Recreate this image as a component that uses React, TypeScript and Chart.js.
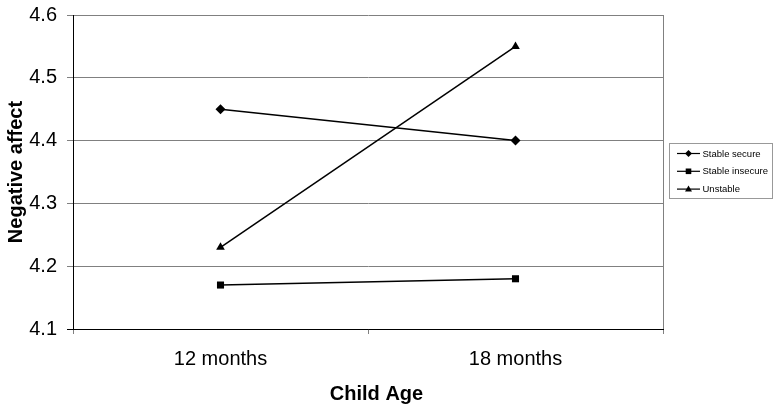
import React, { useEffect, useRef } from 'react';
import { Chart, registerables } from 'chart.js';

Chart.register(...registerables);

// ---- data ----
const categories = ['12 months', '18 months'];
const seriesNames = ['Stable secure', 'Stable insecure', 'Unstable'];
const stableSecure = [4.45, 4.4];
const stableInsecure = [4.17, 4.18];
const unstable = [4.23, 4.55];
const yTickValues = [4.1, 4.2, 4.3, 4.4, 4.5, 4.6];
const xTitle = 'Child Age';
const yTitle = 'Negative affect';
const pointStyles = ['rectRot', 'rect', 'triangle'];

const FONT = "'Liberation Sans', Arial, Helvetica, sans-serif";

function drawMarker(ctx: CanvasRenderingContext2D, style: string, x: number, y: number, r: number) {
  ctx.beginPath();
  if (style === 'rectRot') {
    ctx.moveTo(x, y - r);
    ctx.lineTo(x + r, y);
    ctx.lineTo(x, y + r);
    ctx.lineTo(x - r, y);
    ctx.closePath();
  } else if (style === 'rect') {
    const s = r * 0.8;
    ctx.rect(x - s, y - s, 2 * s, 2 * s);
  } else {
    ctx.moveTo(x, y - r);
    ctx.lineTo(x + r, y + r * 0.7);
    ctx.lineTo(x - r, y + r * 0.7);
    ctx.closePath();
  }
  ctx.fill();
}

const extrasPlugin = {
  id: 'extras',
  afterDraw(chart: any) {
    const ctx: CanvasRenderingContext2D = chart.ctx;
    const area = chart.chartArea;
    ctx.save();
    // right border of plot area
    ctx.strokeStyle = '#808080';
    ctx.lineWidth = 1;
    ctx.beginPath();
    ctx.moveTo(Math.round(area.right) + 0.5, area.top);
    ctx.lineTo(Math.round(area.right) + 0.5, area.bottom);
    ctx.stroke();

    // x axis title
    ctx.fillStyle = '#000';
    ctx.font = `bold 20px ${FONT}`;
    ctx.textAlign = 'center';
    ctx.textBaseline = 'alphabetic';
    ctx.fillText(xTitle, 376.5, 400);

    // legend
    const bx = 669.5, by = 143.5, bw = 103, bh = 55;
    ctx.strokeStyle = '#999';
    ctx.strokeRect(bx, by, bw, bh);
    ctx.font = `9.5px ${FONT}`;
    ctx.textAlign = 'left';
    ctx.textBaseline = 'middle';
    chart.data.datasets.forEach((ds: any, i: number) => {
      const y = 153.5 + i * 17.8;
      ctx.strokeStyle = '#000';
      ctx.lineWidth = 1.2;
      ctx.beginPath();
      ctx.moveTo(677, y);
      ctx.lineTo(700, y);
      ctx.stroke();
      ctx.fillStyle = '#000';
      drawMarker(ctx, pointStyles[i], 688.5, y, 3.5);
      ctx.fillText(ds.label, 702.5, y + 0.5);
    });
    ctx.restore();
  },
};

export default function App() {
  const ref = useRef<HTMLCanvasElement | null>(null);

  useEffect(() => {
    if (!ref.current) return;
    const seriesData = [stableSecure, stableInsecure, unstable];
    const chart = new Chart(ref.current, {
      type: 'line',
      data: {
        labels: categories,
        datasets: seriesNames.map((name, i) => ({
          label: name,
          data: seriesData[i],
          borderColor: '#000',
          backgroundColor: '#000',
          borderWidth: 1.5,
          pointStyle: pointStyles[i] as any,
          pointRadius: 5,
          pointBorderWidth: 0,
          pointBackgroundColor: '#000',
          tension: 0,
          fill: false,
        })),
      },
      options: {
        animation: false,
        responsive: false,
        layout: { padding: { top: 15, right: 115, left: 0, bottom: 0 } },
        plugins: {
          legend: { display: false },
          tooltip: { enabled: false },
          title: { display: false },
        },
        scales: {
          x: {
            type: 'category',
            offset: true,
            grid: {
              display: true,
              offset: true,
              drawOnChartArea: false,
              drawTicks: true,
              tickLength: 5,
              color: '#808080',
            },
            border: { display: true, color: '#000', width: 1 },
            ticks: {
              font: { family: FONT, size: 20 },
              color: '#000',
              padding: 13,
              maxRotation: 0,
            },
            afterFit: (s: any) => {
              s.height = 80;
              s.paddingLeft = 0;
              s.paddingRight = 0;
            },
          } as any,
          y: {
            min: 4.1,
            max: 4.6,
            afterBuildTicks: (s: any) => {
              s.ticks = yTickValues.map((v) => ({ value: v }));
            },
            ticks: {
              font: { family: FONT, size: 20 },
              color: '#000',
              padding: 10,
              callback: (v: any) => Number(v).toFixed(1),
            },
            grid: {
              color: (c: any) => (c.tick && Math.abs(c.tick.value - 4.1) < 1e-6 ? '#000' : '#808080'),
              tickLength: 6,
              lineWidth: 1,
            },
            border: { color: '#000' },
            title: {
              display: true,
              text: yTitle,
              font: { family: FONT, size: 20, weight: 'bold' },
              color: '#000',
              padding: { top: 4.5, bottom: 0 },
            },
            afterFit: (s: any) => {
              s.width = 73;
              s.paddingTop = 0;
              s.paddingBottom = 0;
            },
          } as any,
        },
      },
      plugins: [extrasPlugin],
    });
    return () => chart.destroy();
  }, []);

  return (
    <div style={{ position: 'fixed', left: 0, top: 0, width: 778, height: 409, background: '#fff' }}>
      <canvas ref={ref} width={778} height={409} style={{ display: 'block', width: 778, height: 409 }} />
    </div>
  );
}
